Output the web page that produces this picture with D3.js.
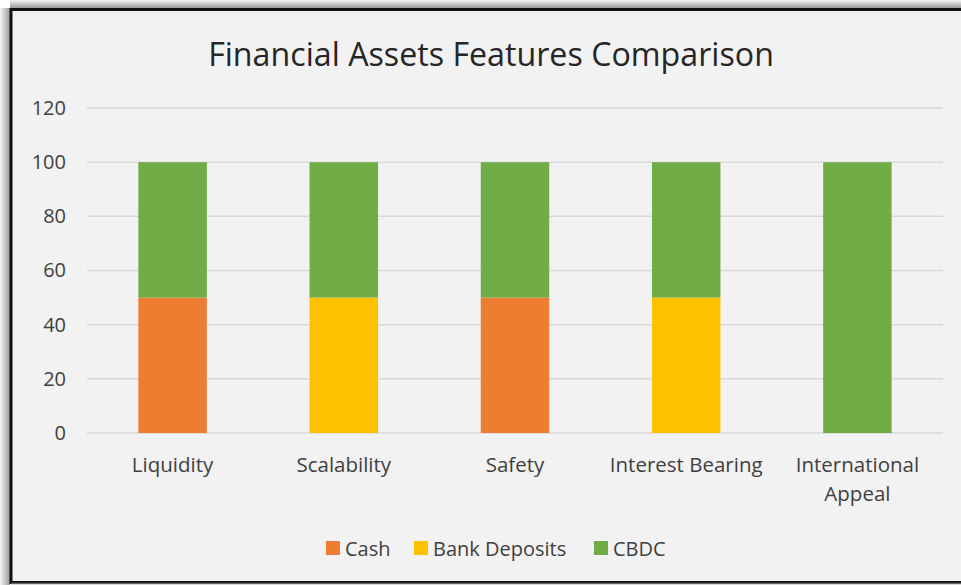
<!DOCTYPE html>
<html>
<head>
<meta charset="utf-8">
<script src="https://cdn.jsdelivr.net/npm/d3@7"></script>
<style>
  body { margin: 0; background: #ffffff; }
  svg { display: block; font-family: "Open Sans", "Noto Sans", sans-serif; }
</style>
</head>
<body>
<script>
const width = 961;
const height = 585;

// data
const categories = ["Liquidity", "Scalability", "Safety", "Interest Bearing", "International Appeal"];
const seriesNames = ["Cash", "Bank Deposits", "CBDC"];
const cash = [50, 0, 50, 0, 0];
const bankDeposits = [0, 50, 0, 50, 0];
const cbdc = [50, 50, 50, 50, 100];
const yTicks = [0, 20, 40, 60, 80, 100, 120];
const colors = ["#ed7d31", "#ffc000", "#70ad47"];

const margin = { top: 108, right: 18, bottom: 152, left: 87 };

var svg = d3.select("body")
  .append("svg")
  .attr("width", width)
  .attr("height", height);

// shadow + frame
var defs = svg.append("defs");
var lg = defs.append("linearGradient").attr("id", "shL").attr("x1", 0).attr("x2", 1);
lg.append("stop").attr("offset", 0).attr("stop-color", "#f4f4f4");
lg.append("stop").attr("offset", 1).attr("stop-color", "#9a9a9a");
var tg = defs.append("linearGradient").attr("id", "shT").attr("x1", 0).attr("x2", 0).attr("y1", 0).attr("y2", 1);
tg.append("stop").attr("offset", 0).attr("stop-color", "#f4f4f4");
tg.append("stop").attr("offset", 1).attr("stop-color", "#9a9a9a");

svg.append("rect").attr("x", 0).attr("y", 8).attr("width", 10).attr("height", height)
  .attr("fill", "url(#shL)");
svg.append("rect").attr("x", 10).attr("y", 0).attr("width", width).attr("height", 8)
  .attr("fill", "url(#shT)");
svg.append("rect")
  .attr("x", 11).attr("y", 9.5)
  .attr("width", width).attr("height", 573)
  .attr("fill", "#f2f2f2")
  .attr("stroke", "#111").attr("stroke-width", 3);
svg.append("line").attr("x1", 11).attr("x2", width).attr("y1", 583.5).attr("y2", 583.5)
  .attr("stroke", "#666").attr("stroke-width", 1.5);

var x = d3.scaleBand()
  .domain(categories)
  .range([margin.left, width - margin.right])
  .paddingInner(0.6)
  .paddingOuter(0.3);

var y = d3.scaleLinear()
  .domain([0, 120])
  .range([height - margin.bottom, margin.top]);

// gridlines
svg.append("g")
  .selectAll("line")
  .data(yTicks)
  .join("line")
  .attr("x1", margin.left)
  .attr("x2", width - margin.right)
  .attr("y1", d => y(d))
  .attr("y2", d => y(d))
  .attr("stroke", "#d9d9d9")
  .attr("stroke-width", 1.5);

// y axis labels
var yAxis = d3.axisLeft(y).tickValues(yTicks).tickSize(0).tickPadding(21);
var yg = svg.append("g")
  .attr("transform", "translate(" + margin.left + ",0)")
  .call(yAxis);
yg.select(".domain").remove();
yg.selectAll("text")
  .attr("font-size", 20)
  .attr("fill", "#404040")
  .attr("font-family", "Open Sans, sans-serif");

// stacked bars
var rows = categories.map(function(c, i) {
  return { cat: c, Cash: cash[i], "Bank Deposits": bankDeposits[i], CBDC: cbdc[i] };
});
var stack = d3.stack().keys(seriesNames)(rows);

svg.append("g")
  .selectAll("g")
  .data(stack)
  .join("g")
  .attr("fill", (d, i) => colors[i])
  .selectAll("rect")
  .data(d => d)
  .join("rect")
  .attr("x", d => x(d.data.cat))
  .attr("width", x.bandwidth())
  .attr("y", d => y(d[1]))
  .attr("height", d => y(d[0]) - y(d[1]));

// x axis labels
var xLabels = svg.append("g");
categories.forEach(function(c) {
  var cx = x(c) + x.bandwidth() / 2;
  var lines = c === "International Appeal" ? ["International", "Appeal"] : [c];
  lines.forEach(function(t, j) {
    xLabels.append("text")
      .attr("x", cx)
      .attr("y", 472 + j * 29)
      .attr("text-anchor", "middle")
      .attr("font-size", 20.5)
      .attr("fill", "#404040")
      .text(t);
  });
});

// title
svg.append("text")
  .attr("x", 491)
  .attr("y", 66)
  .attr("text-anchor", "middle")
  .attr("font-size", 32.2)
  .attr("fill", "#262626")
  .text("Financial Assets Features Comparison");

// legend
var legendX = [326, 414, 594];
var legend = svg.append("g");
seriesNames.forEach(function(s, i) {
  legend.append("rect")
    .attr("x", legendX[i]).attr("y", 541)
    .attr("width", 14).attr("height", 14)
    .attr("fill", colors[i]);
  legend.append("text")
    .attr("x", legendX[i] + 19).attr("y", 556)
    .attr("font-size", 20)
    .attr("fill", "#404040")
    .text(s);
});
</script>
</body>
</html>
